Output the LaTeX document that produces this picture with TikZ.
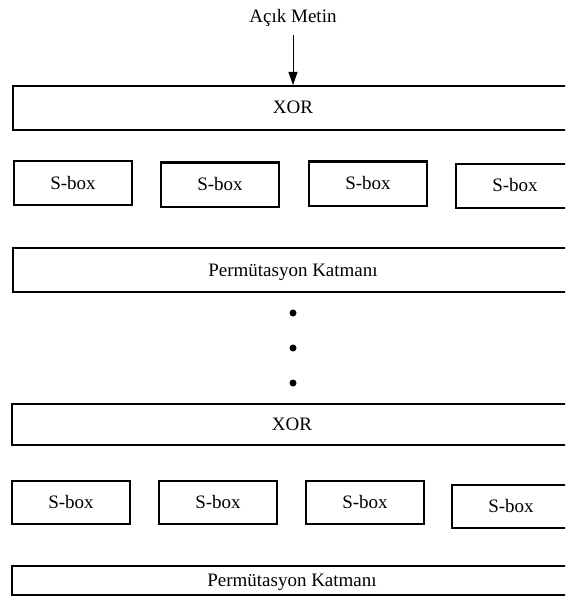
\documentclass[tikz,border=0pt]{standalone}
\usepackage{fontspec}
\setmainfont{Liberation Serif}
\usetikzlibrary{arrows.meta}
\begin{document}
\begin{tikzpicture}[x=1pt,y=-1pt,
  lbl/.style={font=\fontsize{19}{22}\selectfont, text height=15pt, text depth=3pt},
  blk/.style={lbl, draw=black, line width=2pt, fill=white, inner sep=0pt},
  wide/.style={blk, minimum width=560pt, minimum height=44pt},
  sbox/.style={blk, minimum width=118pt, minimum height=44pt},
  dot/.style={circle, fill=black, draw=none, inner sep=0pt, minimum size=7pt},
  arr/.style={line width=0.8pt, -{Triangle[length=13pt,width=9pt]}}]
\useasboundingbox (0,0) rectangle (565,596);
\clip (0,0) rectangle (565,596);

% input label and first XOR layer
\node[lbl, inner xsep=2pt, inner ysep=9pt] (input) at (293,17) {Açık Metin};
\node[wide] (xorA) at (293,108) {XOR};
\draw[arr] (input.south) -- (xorA.north);

% first substitution row
\node[sbox] (sA1) at (73,183)    {S-box};
\node[sbox] (sA2) at (220,184.5) {S-box};
\node[sbox] (sA3) at (368,183.5) {S-box};
\node[sbox] (sA4) at (515,185.5) {S-box};

% first permutation layer
\node[wide] (permA) at (293,270) {Permütasyon Katmanı};

% repeated rounds
\node[dot] (d1) at (293,313) {};
\node[dot] (d2) at (293,348) {};
\node[dot] (d3) at (293,383) {};

% last XOR layer
\node[wide, minimum height=41pt] (xorB) at (292,424.5) {XOR};

% last substitution row
\node[sbox, minimum height=43pt] (sB1) at (71,502.5)  {S-box};
\node[sbox, minimum height=43pt] (sB2) at (218,502.5) {S-box};
\node[sbox, minimum height=43pt] (sB3) at (365,502.5) {S-box};
\node[sbox, minimum height=43pt] (sB4) at (511,506.5) {S-box};

% last permutation layer
\node[wide, minimum height=29pt] (permB) at (292,580) {Permütasyon Katmanı};
\end{tikzpicture}
\end{document}
